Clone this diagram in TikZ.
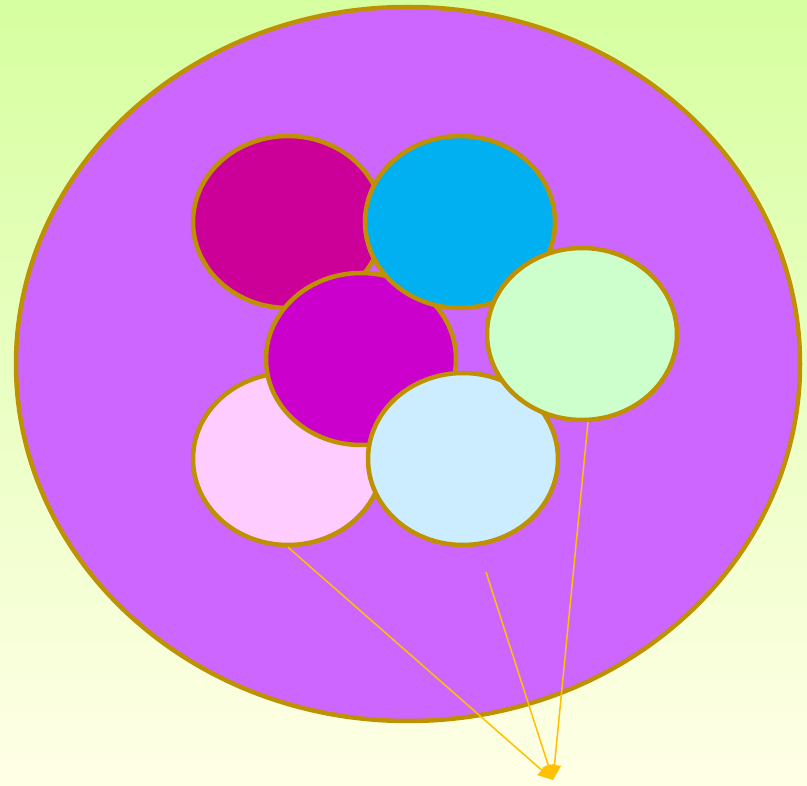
\documentclass[tikz,border=0pt]{standalone}
\usepackage{tikz}
\usetikzlibrary{shapes.geometric}
\usetikzlibrary{arrows.meta}
\usetikzlibrary{calc}

\definecolor{bgtop}{RGB}{214,255,160}
\definecolor{bgbot}{RGB}{255,255,230}
\definecolor{rim}{RGB}{191,144,0}
\definecolor{bigfill}{RGB}{204,102,255}
\definecolor{magentafill}{RGB}{204,0,153}
\definecolor{cyanfill}{RGB}{0,176,240}
\definecolor{greenfill}{RGB}{204,255,204}
\definecolor{purplefill}{RGB}{204,0,204}
\definecolor{pinkfill}{RGB}{255,204,255}
\definecolor{bluefill}{RGB}{204,236,255}
\definecolor{string}{RGB}{255,192,0}

\tikzset{
    balloon/.style={ellipse, draw=rim, line width=4.5pt, inner sep=0pt,
        minimum width=190pt, minimum height=172pt},
    tether/.style={draw=string, line width=1.5pt,
        -{Triangle[length=15pt,width=13pt]}}
}

\begin{document}
\begin{tikzpicture}[x=1pt,y=-1pt]
            \shade[top color=bgtop, bottom color=bgbot] (0,0) rectangle (807,786);
            \useasboundingbox (0,0) rectangle (807,786);

            % Outer ellipse
            \node[ellipse, draw=rim, fill=bigfill, line width=4.5pt, inner sep=0pt,
                minimum width=784pt, minimum height=714pt] (bag) at (408,364) {};

            % Balloons, back to front
            \node[balloon, fill=magentafill] (magenta) at (288,222) {};
            \node[balloon, fill=pinkfill] (pink) at (288,459) {};
            \node[balloon, fill=purplefill] (purple) at (361,359) {};
            \node[balloon, fill=cyanfill] (cyan) at (460,222) {};
            \node[balloon, fill=bluefill] (blue) at (463,459) {};
            \node[balloon, fill=greenfill] (green) at (582,334) {};

            % Strings
            \coordinate (knot) at (553,780);
            \coordinate (loose) at (486,572);
            \draw[tether] (pink.south) -- (knot);
            \draw[tether] (loose) -- (knot);
            \draw[tether] ($(green.south) + (6,0)$) -- (knot);
\end{tikzpicture}
\end{document}
